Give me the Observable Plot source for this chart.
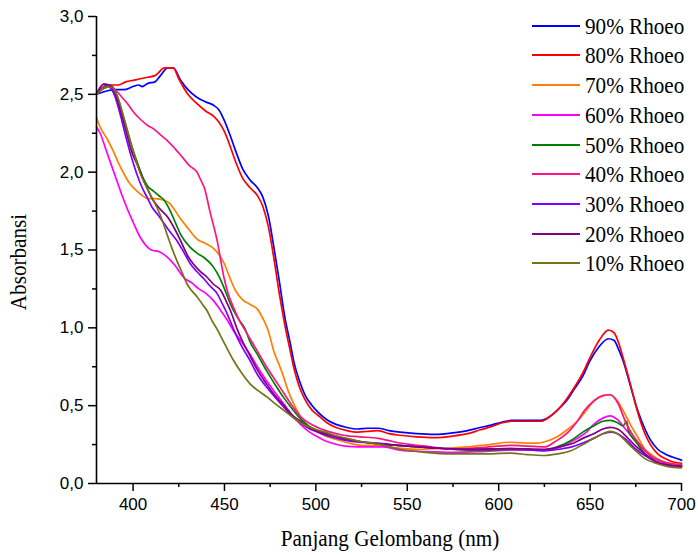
<!DOCTYPE html>
<html>
<head>
<meta charset="utf-8">
<script src="https://cdn.jsdelivr.net/npm/d3@7"></script>
<script src="https://cdn.jsdelivr.net/npm/@observablehq/plot@0.6"></script>
<style>
  html, body { margin: 0; padding: 0; background: #fff; }
  #wrap { position: relative; width: 698px; height: 555px; overflow: hidden; }
  #wrap svg { position: absolute; left: 0; top: 0; }
  .lg-line { position: absolute; height: 2px; }
  .lg-text, .title { position: absolute; font-family: "Liberation Serif", "Times New Roman", serif; color: #000; white-space: nowrap; line-height: 1; }
  .lg-text { font-size: 23px; transform-origin: left center; transform: scaleX(0.92); }
</style>
</head>
<body>
<div id="wrap"></div>
<script>
// ---- Data ----
const seriesNames = ["90% Rhoeo","80% Rhoeo","70% Rhoeo","60% Rhoeo","50% Rhoeo","40% Rhoeo","30% Rhoeo","20% Rhoeo","10% Rhoeo"];
const seriesColors = ["#0000ff","#ff0000","#ff8000","#ff00ff","#008000","#ff1480","#8000ff","#800080","#737318"];

const rhoeo90 = [[380,2.50],[385,2.52],[390,2.53],[395,2.53],[400,2.55],[403,2.56],[405,2.55],[408,2.57],[412,2.58],[415,2.62],[419,2.67],[422,2.67],[426,2.59],[430,2.53],[435,2.48],[440,2.45],[444,2.43],[447,2.40],[450,2.33],[453,2.24],[456,2.14],[460,2.02],[464,1.95],[468,1.90],[471,1.84],[474,1.72],[477,1.52],[480,1.30],[483,1.07],[486,0.90],[488,0.78],[491,0.66],[494,0.57],[498,0.50],[501,0.46],[506,0.41],[511,0.38],[517,0.36],[523,0.35],[528,0.355],[534,0.355],[540,0.34],[546,0.33],[555,0.32],[565,0.315],[575,0.325],[583,0.34],[590,0.36],[596,0.375],[602,0.395],[607,0.405],[615,0.405],[623,0.405],[628,0.43],[632,0.47],[637,0.53],[641,0.60],[646,0.69],[650,0.79],[655,0.88],[660,0.93],[663,0.92],[666,0.85],[668,0.79],[672,0.63],[676,0.47],[680,0.35],[683,0.28],[687,0.22],[691,0.19],[695,0.17],[700,0.15]];

const rhoeo80 = [[380,2.50],[383,2.54],[386,2.56],[392,2.56],[396,2.58],[400,2.59],[404,2.60],[408,2.61],[412,2.62],[414,2.64],[417,2.67],[422,2.67],[425,2.60],[430,2.50],[435,2.44],[440,2.39],[444,2.36],[447,2.32],[450,2.26],[453,2.17],[456,2.07],[460,1.96],[464,1.90],[468,1.85],[471,1.78],[474,1.65],[477,1.45],[480,1.22],[483,1.02],[486,0.85],[488,0.74],[491,0.62],[494,0.54],[498,0.47],[501,0.44],[506,0.39],[511,0.36],[517,0.34],[523,0.33],[528,0.335],[534,0.34],[540,0.32],[546,0.31],[555,0.30],[565,0.295],[575,0.305],[583,0.32],[590,0.345],[596,0.365],[602,0.39],[607,0.40],[615,0.40],[623,0.40],[628,0.43],[632,0.47],[637,0.54],[641,0.61],[646,0.71],[650,0.81],[655,0.92],[660,0.985],[663,0.97],[666,0.89],[668,0.81],[672,0.64],[676,0.46],[680,0.32],[683,0.25],[687,0.19],[691,0.16],[695,0.14],[700,0.13]];

const rhoeo70 = [[380,2.35],[382,2.29],[386,2.21],[389,2.14],[392,2.06],[395,1.99],[398,1.93],[402,1.88],[405,1.85],[408,1.83],[412,1.83],[417,1.82],[420,1.80],[422,1.77],[426,1.70],[430,1.64],[435,1.57],[440,1.54],[444,1.51],[447,1.47],[450,1.41],[453,1.32],[456,1.24],[460,1.18],[464,1.15],[468,1.12],[471,1.06],[474,0.98],[477,0.85],[480,0.76],[482.5,0.68],[485,0.59],[488,0.51],[491,0.44],[494,0.39],[501,0.33],[506,0.30],[512,0.28],[518,0.26],[525,0.245],[533,0.245],[540,0.235],[555,0.22],[570,0.225],[583,0.235],[595,0.25],[606,0.265],[615,0.26],[621,0.26],[627,0.275],[632,0.30],[638,0.35],[643,0.40],[648,0.47],[652,0.53],[657,0.565],[661,0.57],[665,0.53],[668,0.47],[672,0.38],[676,0.30],[680,0.22],[683,0.19],[690,0.14],[700,0.12]];

const rhoeo60 = [[380,2.29],[382,2.25],[385,2.15],[388,2.05],[391,1.95],[394,1.85],[397,1.76],[400,1.68],[404,1.58],[407,1.53],[410,1.50],[414,1.49],[417,1.47],[420,1.44],[423,1.40],[428,1.32],[432,1.29],[436,1.25],[440,1.22],[444,1.175],[448,1.11],[451.5,1.05],[455,0.98],[460,0.90],[464,0.83],[468,0.75],[473,0.66],[478,0.58],[482.5,0.51],[487,0.44],[491.6,0.38],[496,0.335],[501,0.30],[505,0.275],[510,0.255],[516,0.24],[523,0.235],[530,0.235],[537,0.235],[546,0.215],[560,0.205],[574,0.20],[590,0.205],[607,0.215],[620,0.215],[628,0.215],[635,0.24],[643,0.29],[648,0.33],[652,0.38],[657,0.42],[661,0.435],[665,0.41],[670,0.34],[675,0.27],[680,0.21],[685,0.16],[692,0.13],[700,0.11]];

const rhoeo50 = [[380,2.50],[385,2.55],[388,2.555],[391,2.50],[394,2.38],[397,2.26],[400,2.14],[403,2.04],[406,1.95],[408,1.91],[411,1.88],[414,1.85],[417,1.82],[420,1.76],[423,1.68],[426,1.60],[431,1.52],[435,1.48],[439,1.45],[444,1.39],[447,1.33],[450,1.25],[453,1.16],[455,1.11],[458,1.05],[461,1.00],[464,0.91],[468,0.83],[473,0.725],[478,0.63],[482.5,0.55],[487,0.48],[491.6,0.415],[496,0.37],[501,0.34],[508,0.31],[515,0.29],[524,0.27],[534,0.255],[545,0.245],[556,0.235],[570,0.225],[583,0.215],[595,0.215],[607,0.22],[625,0.215],[633,0.24],[640,0.28],[646,0.33],[652,0.37],[657,0.40],[661,0.405],[665,0.39],[668,0.37],[670,0.40],[671,0.34],[675,0.27],[680,0.19],[686,0.14],[692,0.12],[700,0.11]];

const rhoeo40 = [[380,2.50],[384,2.54],[388,2.55],[391,2.52],[394,2.48],[397,2.44],[400,2.39],[404,2.34],[408,2.30],[411,2.28],[415,2.24],[419,2.20],[423,2.15],[426,2.11],[431,2.04],[435,2.00],[437,1.95],[439,1.90],[442,1.75],[446,1.56],[449.6,1.33],[452,1.22],[455,1.13],[458,1.05],[461,0.99],[464,0.93],[468,0.85],[473,0.75],[478,0.66],[482.5,0.58],[487,0.50],[491.6,0.43],[496,0.39],[501,0.36],[508,0.33],[515,0.31],[524,0.30],[534,0.29],[540,0.275],[546,0.26],[560,0.24],[574,0.22],[590,0.23],[607,0.245],[616,0.24],[625,0.235],[631,0.27],[638,0.33],[643,0.40],[647,0.47],[652,0.53],[657,0.565],[661,0.57],[665,0.52],[670,0.38],[674,0.30],[678,0.24],[684,0.17],[690,0.14],[700,0.12]];

const rhoeo30 = [[380,2.50],[384,2.565],[387,2.55],[390,2.49],[393,2.37],[396,2.23],[399,2.10],[402,1.99],[405,1.90],[407.6,1.84],[410.4,1.775],[414,1.72],[417,1.67],[420,1.62],[424,1.56],[428,1.48],[431.4,1.41],[435,1.36],[438.7,1.315],[442,1.27],[446,1.22],[449,1.15],[451.5,1.09],[455,0.99],[459,0.89],[464,0.79],[468,0.70],[473,0.62],[478,0.55],[482.5,0.49],[487,0.43],[491.6,0.39],[496,0.355],[501,0.33],[508,0.30],[515,0.28],[524,0.265],[534,0.26],[545,0.245],[556,0.235],[570,0.225],[583,0.22],[595,0.222],[607,0.225],[625,0.21],[633,0.22],[640,0.235],[646,0.26],[652,0.29],[657,0.32],[661,0.33],[665,0.32],[670,0.28],[675,0.22],[680,0.18],[686,0.14],[692,0.12],[700,0.11]];

const rhoeo20 = [[380,2.50],[384,2.565],[387,2.56],[390,2.51],[393,2.40],[396,2.27],[399,2.14],[403,2.03],[406,1.94],[408,1.89],[411,1.82],[415,1.76],[419,1.71],[423,1.63],[426,1.56],[430,1.46],[433,1.41],[437,1.36],[440.5,1.325],[444,1.28],[448,1.24],[451,1.17],[453.3,1.11],[457,0.99],[460,0.91],[464,0.82],[468,0.73],[473,0.64],[478,0.56],[482.5,0.50],[487,0.44],[491.6,0.40],[496,0.36],[501,0.335],[508,0.31],[515,0.29],[524,0.27],[534,0.255],[545,0.245],[556,0.235],[570,0.225],[583,0.22],[595,0.222],[607,0.225],[625,0.22],[633,0.235],[640,0.255],[646,0.29],[652,0.32],[657,0.35],[661,0.36],[665,0.35],[670,0.30],[675,0.24],[680,0.19],[686,0.14],[692,0.12],[700,0.11]];

const rhoeo10 = [[380,2.50],[383,2.53],[386.6,2.55],[389,2.54],[392,2.47],[395,2.35],[398,2.22],[401,2.10],[404,1.99],[407.6,1.90],[410,1.84],[413,1.775],[416,1.69],[418.6,1.60],[421,1.52],[424,1.43],[427,1.35],[429.6,1.28],[432,1.24],[435,1.20],[438,1.15],[440.5,1.11],[443,1.05],[446,0.99],[450,0.90],[455,0.79],[460,0.70],[464,0.64],[468,0.60],[473.4,0.555],[478,0.51],[482.5,0.47],[487,0.43],[491.6,0.39],[499,0.35],[505,0.33],[510,0.31],[517,0.29],[524.5,0.27],[533.6,0.255],[546,0.22],[560,0.20],[574,0.19],[590,0.19],[606.6,0.195],[616,0.185],[625,0.18],[632,0.19],[639.5,0.21],[646,0.25],[652,0.29],[657,0.32],[661,0.335],[665,0.32],[670.5,0.26],[675,0.21],[680,0.16],[686,0.13],[692,0.11],[700,0.10]];

const xMajorTicks = [400,450,500,550,600,650,700];
const xMinorTicks = [425,475,525,575,625,675];
const yMajorTicks = [0,0.5,1.0,1.5,2.0,2.5,3.0];
const yMinorTicks = [0.25,0.75,1.25,1.75,2.25,2.75];
const xTitle = "Panjang Gelombang (nm)";
const yTitle = "Absorbansi";

// ---- Build ----
const allSeries = [rhoeo90, rhoeo80, rhoeo70, rhoeo60, rhoeo50, rhoeo40, rhoeo30, rhoeo20, rhoeo10];
const fmt = d => d.toFixed(1).replace(".", ",");
const tickFont = "'Liberation Sans Narrow', 'Liberation Sans', Arial, sans-serif";

const lineMarks = allSeries.map((pts, i) =>
  Plot.line(pts, {x: d => d[0], y: d => d[1], stroke: seriesColors[i], strokeWidth: 1.7, curve: "monotone-x"})
);

const chart = Plot.plot({
  width: 698,
  height: 555,
  marginLeft: 96,
  marginRight: 17,
  marginTop: 16,
  marginBottom: 72,
  style: {fontFamily: tickFont, fontSize: "17px", color: "#000", background: "#fff"},
  x: {domain: [380, 700]},
  y: {domain: [0, 3]},
  marks: [
    ...lineMarks,
    Plot.ruleY([0], {stroke: "#000", strokeWidth: 1.6}),
    Plot.ruleX([380], {stroke: "#000", strokeWidth: 1.6}),
    Plot.axisX({ticks: xMajorTicks, tickSize: 8, tickPadding: 6, tickFormat: d => String(d), label: null, strokeWidth: 1.5, fontSize: 17}),
    Plot.axisX({ticks: xMinorTicks, tickSize: 4, tickFormat: null, text: null, label: null, strokeWidth: 1.5}),
    Plot.axisY({ticks: yMajorTicks, tickSize: 8, tickPadding: 5, tickFormat: fmt, label: null, strokeWidth: 1.5, fontSize: 17}),
    Plot.axisY({ticks: yMinorTicks, tickSize: 4, tickFormat: null, text: null, label: null, strokeWidth: 1.5})
  ]
});

const wrap = document.getElementById("wrap");
wrap.appendChild(chart);

// Legend (HTML overlay)
seriesNames.forEach((name, i) => {
  const cy = 25.7 + i * 29.7;
  const ln = document.createElement("div");
  ln.className = "lg-line";
  ln.style.left = "532px";
  ln.style.width = "48px";
  ln.style.top = (cy - 1) + "px";
  ln.style.background = seriesColors[i];
  wrap.appendChild(ln);
  const tx = document.createElement("div");
  tx.className = "lg-text";
  tx.textContent = name;
  tx.style.left = "585px";
  tx.style.top = (cy - 11) + "px";
  wrap.appendChild(tx);
});

// Axis titles
const xt = document.createElement("div");
xt.className = "title";
xt.textContent = xTitle;
xt.style.fontSize = "23px";
xt.style.left = "390px";
xt.style.top = "527px";
xt.style.transform = "translateX(-50%) scaleX(0.92)";
wrap.appendChild(xt);

const yt = document.createElement("div");
yt.className = "title";
yt.textContent = yTitle;
yt.style.fontSize = "23px";
yt.style.left = "18px";
yt.style.top = "262px";
yt.style.transform = "translate(-50%, -50%) rotate(-90deg) scaleX(0.92)";
wrap.appendChild(yt);
</script>
</body>
</html>
